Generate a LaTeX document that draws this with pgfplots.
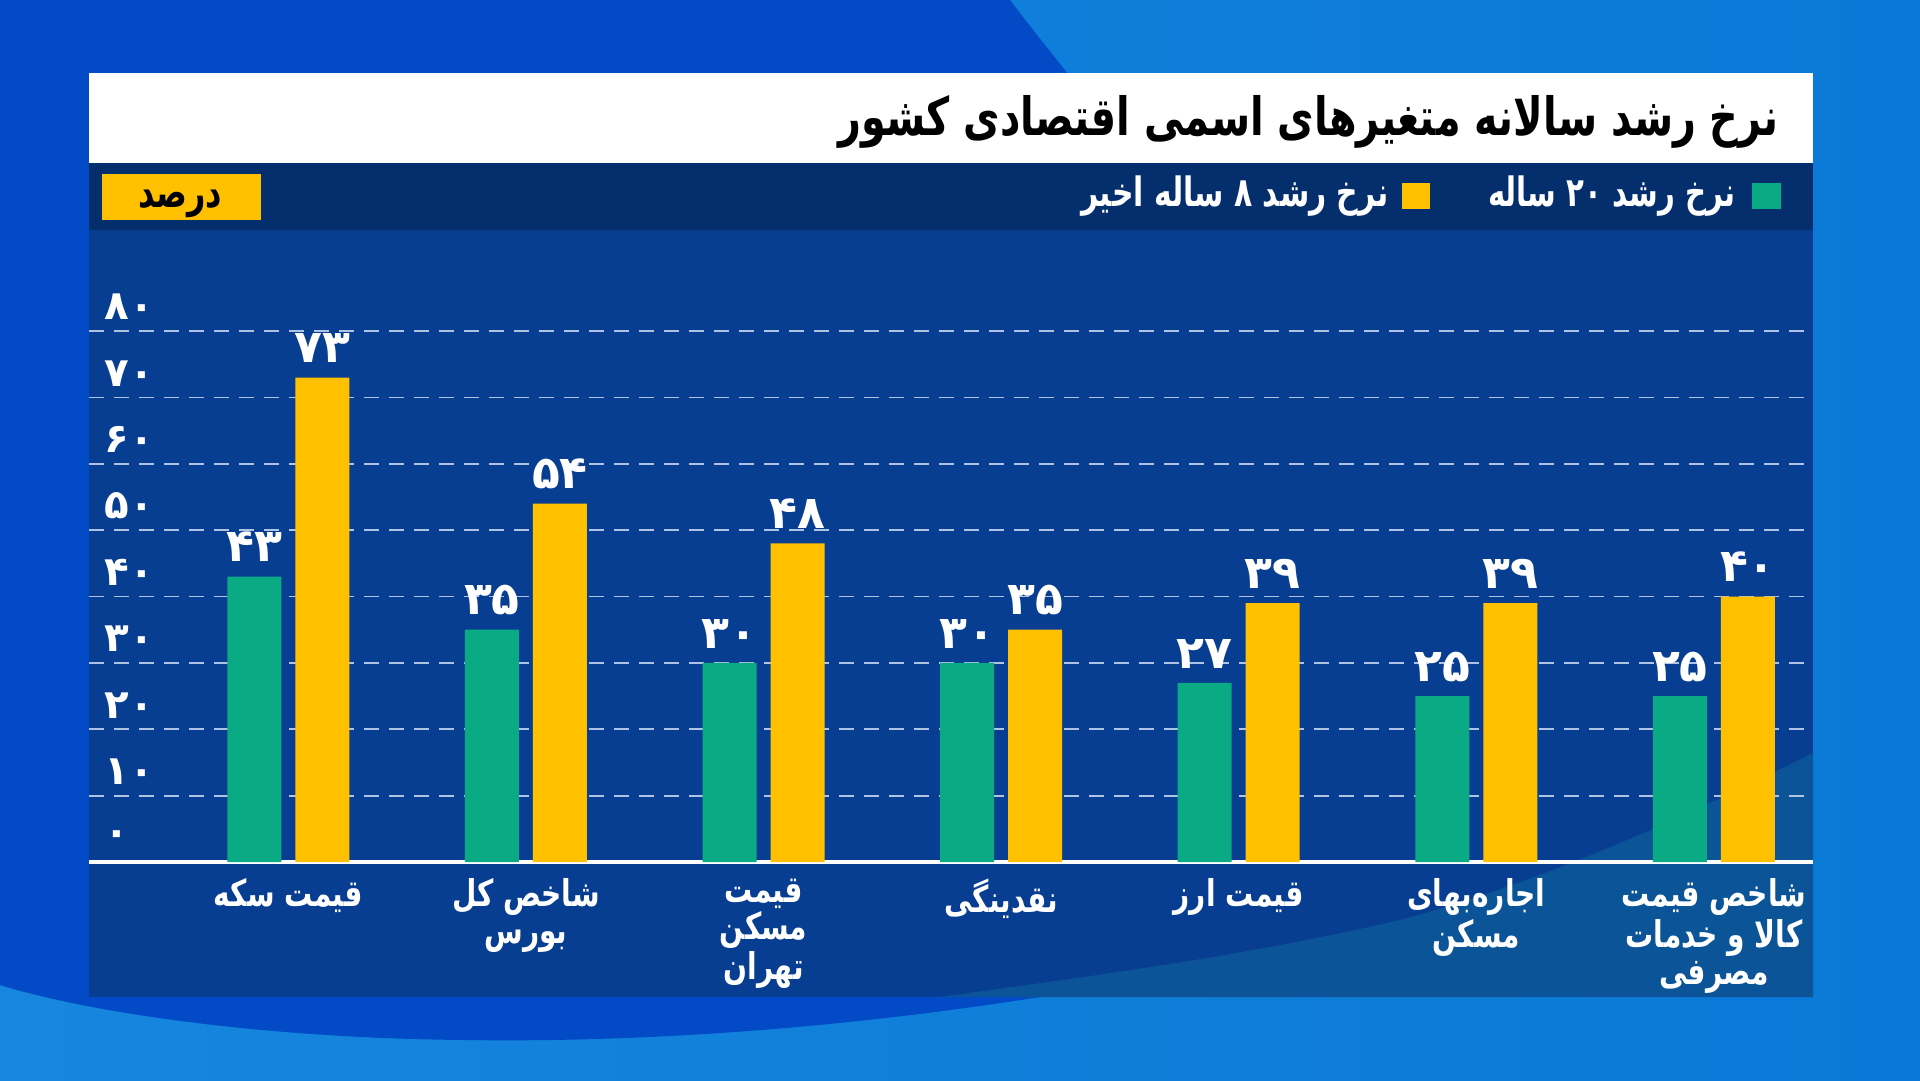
\documentclass[border=0pt]{standalone}
\usepackage{pgfplots}
\pgfplotsset{compat=1.18}
\usepackage{graphicx}
\usepackage{fontspec}
\newfontfamily\fa[Script=Arabic]{DejaVu Sans}
\TeXXeTstate=1
\definecolor{cgreen}{RGB}{10,170,132}
\definecolor{cyellow}{RGB}{255,192,0}
\definecolor{bgdark}{RGB}{2,74,198}
\definecolor{bglightL}{RGB}{22,134,222}
\definecolor{bglightR}{RGB}{10,120,214}
\definecolor{paneldark}{RGB}{7,62,145}
\definecolor{panellight}{RGB}{11,84,152}
\definecolor{band}{RGB}{5,46,108}
\definecolor{gridc}{RGB}{175,195,228}
\begin{document}
\begin{tikzpicture}
\begin{scope}[x=0.1mm,y=0.1mm]
\useasboundingbox (0,0) rectangle (1920,1080);
% background
\shade[left color=bglightL, right color=bglightR] (0,0) rectangle (1920,1080);
\fill[bgdark] (0,1080) -- (1010,1080) .. controls (1300,700) and (1650,420) .. (1790,335) .. controls (1650,260) and (1550,200) .. (1400,160) .. controls (1150,90) and (800,35) .. (465,40) .. controls (250,42) and (80,70) .. (0,95) -- cycle;
% panel
\fill[paneldark] (89,83) rectangle (1813,850);
\fill[panellight] (940,83) .. controls (1100,105) and (1250,125) .. (1400,160) .. controls (1550,200) and (1700,270) .. (1813,327) -- (1813,83) -- cycle;
\fill[band] (89,850) rectangle (1813,917);
\fill[white] (89,917) rectangle (1813,1007);
% title
\node[anchor=base east, inner sep=0, text=black] at (1779,945) {\resizebox{94mm}{\height}{\fa\bfseries\fontsize{15}{15}\selectfont\beginR نرخ رشد سالانه متغیرهای اسمی اقتصادی کشور\endR}};
% legend
\fill[cgreen] (1752,871) rectangle (1781,897);
\node[anchor=base east, inner sep=0, text=white] at (1736,874) {\resizebox{24.7mm}{\height}{\fa\bfseries\fontsize{11.5}{11.5}\selectfont\beginR نرخ رشد ۲۰ ساله\endR}};
\fill[cyellow] (1402,871) rectangle (1430,897);
\node[anchor=base east, inner sep=0, text=white] at (1389,874) {\resizebox{30.7mm}{\height}{\fa\bfseries\fontsize{11.5}{11.5}\selectfont\beginR نرخ رشد ۸ ساله اخیر\endR}};
% unit box
\fill[cyellow] (102,860) rectangle (261,906);
\node[anchor=base, inner sep=0, text=black] at (180,873) {\resizebox{8.4mm}{\height}{\fa\bfseries\fontsize{12}{12}\selectfont\beginR درصد\endR}};
\end{scope}
\begin{axis}[
  at={(8.9mm,21.8mm)}, anchor=south west, scale only axis,
  width=172.4mm, height=53.1mm,
  xmin=-0.839, xmax=6.417, ymin=0, ymax=80,
  ybar=1.4mm, bar width=5.4mm,
  ytick={0,10,...,80},
  yticklabels={۰,۱۰,۲۰,۳۰,۴۰,۵۰,۶۰,۷۰,۸۰},
  xtick={0,...,6},
  xticklabels={
    {\scalebox{0.76}[1]{\beginR قیمت سکه\endR}},
    {\scalebox{0.76}[1]{\beginR شاخص کل\endR}\\\scalebox{0.76}[1]{\beginR بورس\endR}},
    {\scalebox{0.76}[1]{\beginR قیمت\endR}\\\scalebox{0.76}[1]{\beginR مسکن\endR}\\\scalebox{0.76}[1]{\beginR تهران\endR}},
    {\scalebox{0.76}[1]{\beginR نقدینگی\endR}},
    {\scalebox{0.76}[1]{\beginR قیمت ارز\endR}},
    {\scalebox{0.76}[1]{\beginR اجاره‌بهای\endR}\\\scalebox{0.76}[1]{\beginR مسکن\endR}},
    {\scalebox{0.76}[1]{\beginR شاخص قیمت\endR}\\\scalebox{0.76}[1]{\beginR کالا و خدمات\endR}\\\scalebox{0.76}[1]{\beginR مصرفی\endR}}},
  ymajorgrids,
  major grid style={gridc, dash pattern=on 1.5mm off 1mm, line width=0.5pt},
  axis x line*=bottom, axis y line*=left,
  x axis line style={white, line width=1.2pt, -},
  y axis line style={draw=none},
  major tick length=0,
  yticklabel style={text=white, anchor=west, inner sep=0, xshift=1.5mm, yshift=2.4mm, font=\fa\bfseries\fontsize{11.5}{11.5}\selectfont},
  xticklabel style={text=white, anchor=north, inner sep=0, yshift=-1.6mm, align=center, font=\fa\bfseries\fontsize{10.5}{10.5}\selectfont},
  clip=false,
  point meta=explicit symbolic,
  nodes near coords,
  every node near coord/.append style={text=white, anchor=south, inner sep=0, yshift=1.4mm, font=\fa\bfseries\fontsize{13}{13}\selectfont},
]
\addplot[fill=cgreen, draw=none] coordinates {(0,43)[۴۳] (1,35)[۳۵] (2,30)[۳۰] (3,30)[۳۰] (4,27)[۲۷] (5,25)[۲۵] (6,25)[۲۵]};
\addplot[fill=cyellow, draw=none] coordinates {(0,73)[۷۳] (1,54)[۵۴] (2,48)[۴۸] (3,35)[۳۵] (4,39)[۳۹] (5,39)[۳۹] (6,40)[۴۰]};
\end{axis}
\end{tikzpicture}
\end{document}
